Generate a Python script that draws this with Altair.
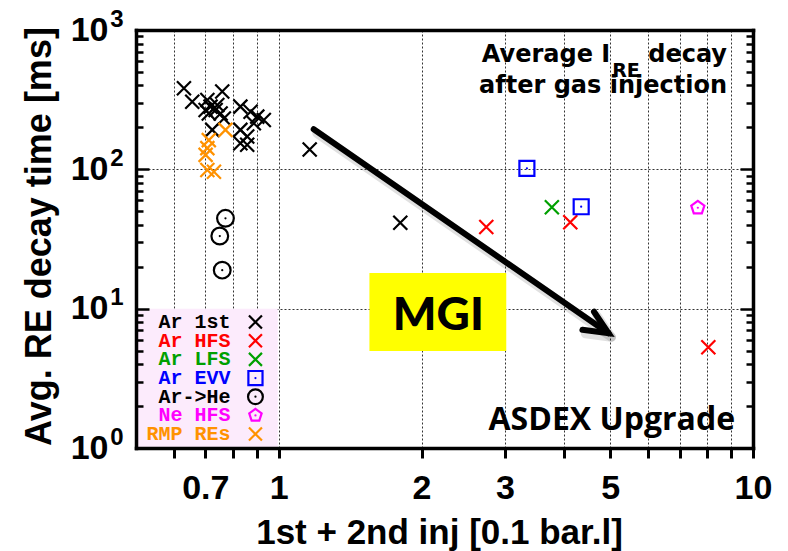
import altair as alt
import pandas as pd

# ---------------- data ----------------
ar1st_x = [0.631, 0.657, 0.707, 0.760, 0.718, 0.736, 0.712, 0.754, 0.766, 0.724, 0.830,
           0.872, 0.901, 0.930, 0.886, 0.830, 0.858, 0.830, 0.858, 0.701, 0.742, 1.162, 1.804]
ar1st_y = [382, 306, 314, 362, 282, 267, 252, 252, 232, 192, 282,
           259, 239, 226, 214, 192, 172, 154, 150, 267, 290, 139, 41.4]
arhfs_x = [2.739, 4.118, 8.05]
arhfs_y = [38.6, 41.7, 5.28]
arlfs_x = [3.766]
arlfs_y = [53.4]
arevv_x = [3.336, 4.342]
arevv_y = [101.7, 53.9]
arhe_x = [0.772, 0.751, 0.760]
arhe_y = [44.5, 33.2, 18.9]
nehfs_x = [7.65]
nehfs_y = [53.0]
rmp_x = [0.772, 0.712, 0.707, 0.701, 0.707, 0.730]
rmp_y = [192, 162, 142, 127, 99, 96]

legend_labels = ["Ar 1st", "Ar HFS", "Ar LFS", "Ar EVV", "Ar->He", "Ne HFS", "RMP REs"]
legend_colors = ["black", "#ff0000", "#00a000", "#0000ff", "black", "#ff00ff", "#ff9200"]
legend_shapes = ["x", "x", "x", "square", "circle", "pentagon", "x"]
series_x = [ar1st_x, arhfs_x, arlfs_x, arevv_x, arhe_x, nehfs_x, rmp_x]
series_y = [ar1st_y, arhfs_y, arlfs_y, arevv_y, arhe_y, nehfs_y, rmp_y]

x_tick_values = [0.6, 0.7, 0.8, 0.9, 1, 2, 3, 4, 5, 6, 7, 8, 9, 10]
x_tick_labels = [0.7, 1, 2, 3, 5, 10]
y_label_values = [1, 10, 100, 1000]
y_grid_values = [10, 100]
y_minor_values = [1, 2, 3, 4, 5, 6, 7, 8, 9, 10, 20, 30, 40, 50, 60, 70, 80, 90,
                  100, 200, 300, 400, 500, 600, 700, 800, 900, 1000]

arrow_x = [1.185, 4.958]
arrow_y = [194, 6.66]
head_x = [4.368, 4.958, 4.62]
head_y = [7.05, 6.66, 9.5]

# ---------------- styling ----------------
W, H = 617, 418
FONT = "Liberation Sans"
X_PATH = "M-1,-1L1,1M-1,1L1,-1"
PENT_PATH = "M0,-1L0.951,-0.309L0.588,0.809L-0.588,0.809L-0.951,-0.309Z"
SHAPE = {"x": X_PATH, "square": "square", "circle": "circle", "pentagon": PENT_PATH}
SIZE = {"x": 196, "square": 225, "circle": 280, "pentagon": 190}
LSIZE = {"x": 169, "square": 200, "circle": 220, "pentagon": 170}

xs = alt.Scale(type="log", domain=[0.5, 10], nice=False)
ys = alt.Scale(type="log", domain=[1, 1000], nice=False)


def XY(xaxis=None, yaxis=None):
    return dict(x=alt.X("x:Q", scale=xs, axis=xaxis), y=alt.Y("y:Q", scale=ys, axis=yaxis))


layers = []

# legend background box
box = pd.DataFrame({"x": [0.5], "x2": [0.995], "y": [1], "y2": [10]})
layers.append(alt.Chart(box).mark_rect(color="#fcebfc").encode(
    x=alt.X("x:Q", scale=xs, axis=None), x2="x2", y=alt.Y("y:Q", scale=ys, axis=None), y2="y2"))

# yellow MGI box
mgi = pd.DataFrame({"x": [1.553], "x2": [3.018], "y": [4.97], "y2": [18.0]})
layers.append(alt.Chart(mgi).mark_rect(color="#ffff00").encode(
    x=alt.X("x:Q", scale=xs, axis=None), x2="x2", y=alt.Y("y:Q", scale=ys, axis=None), y2="y2"))

# arrow with soft shadow
arr = pd.DataFrame({"x": arrow_x, "y": arrow_y, "i": [0, 1]})
hd = pd.DataFrame({"x": head_x, "y": head_y, "i": [0, 1, 2]})
for df in (arr, hd):
    layers.append(alt.Chart(df).mark_line(color="black", opacity=0.12, strokeWidth=9,
                                          xOffset=3, yOffset=4, strokeCap="round",
                                          strokeJoin="round").encode(
        order="i:Q", **XY()))
for df in (arr, hd):
    layers.append(alt.Chart(df).mark_line(color="black", strokeWidth=6, strokeCap="round",
                                          strokeJoin="miter").encode(order="i:Q", **XY()))

# data points
for lab, col, shp, sx, sy in zip(legend_labels, legend_colors, legend_shapes, series_x, series_y):
    df = pd.DataFrame({"x": sx, "y": sy})
    layers.append(alt.Chart(df).mark_point(shape=SHAPE[shp], filled=False, color=col,
                                           size=SIZE[shp], opacity=1,
                                           strokeWidth=2.2).encode(**XY()))
    if shp != "x":
        layers.append(alt.Chart(df).mark_point(shape="circle", filled=True, color=col,
                                               size=5, opacity=1).encode(**XY()))

# manual legend
leg_y = [10 ** (0.904 - 0.134 * i) for i in range(len(legend_labels))]
leg = pd.DataFrame({"label": legend_labels, "color": legend_colors,
                    "x": [0.791] * len(legend_labels), "y": leg_y})
layers.append(alt.Chart(leg).mark_text(font="Liberation Mono", fontSize=20, fontWeight="bold",
                                       align="right", baseline="middle").encode(
    text="label:N", color=alt.Color("color:N", scale=None), **XY()))
for lab, col, shp, yy in zip(legend_labels, legend_colors, legend_shapes, leg_y):
    df = pd.DataFrame({"x": [0.893], "y": [yy]})
    layers.append(alt.Chart(df).mark_point(shape=SHAPE[shp], filled=False, color=col,
                                           size=LSIZE[shp], opacity=1,
                                           strokeWidth=2.2).encode(**XY()))
    if shp != "x":
        layers.append(alt.Chart(df).mark_point(shape="circle", filled=True, color=col,
                                               size=5, opacity=1).encode(**XY()))

# text annotations
def txt(text, x, y, size, font, align, baseline="alphabetic", weight="bold"):
    df = pd.DataFrame({"x": [x], "y": [y], "t": [text]})
    return alt.Chart(df).mark_text(font=font, fontSize=size, fontWeight=weight, align=align,
                                   baseline=baseline, color="black").encode(text="t:N", **XY())

layers.append(txt("MGI", 2.17, 7.03, 46, "Lato", "center", weight=900))
layers.append(txt("Average I", 5.0, 589, 24, "DejaVu Sans", "right"))
layers.append(txt("RE", 5.047, 462, 19, "DejaVu Sans", "left"))
layers.append(txt("decay", 8.815, 589, 24, "DejaVu Sans", "right"))
layers.append(txt("after gas injection", 8.815, 353, 24, "DejaVu Sans", "right"))
layers.append(txt("ASDEX Upgrade", 9.165, 1.346, 32, "Open Sans", "right"))

# ---------------- axes ----------------
dom = pd.DataFrame({"x": [0.5, 10], "y": [1, 1000]})
xexpr = "".join(f"abs(datum.value - {v}) < 1e-9 ? '{v:g}' : " for v in x_tick_labels) + "''"
major_test = " || ".join(f"datum.value == {v}" for v in y_grid_values)
tick_cond = {"condition": {"test": major_test, "value": 13}, "value": 7}

ax_xgrid = alt.Axis(orient="bottom", values=x_tick_values, grid=True, gridDash=[2, 2],
                    gridColor="#333333", gridWidth=1, domain=False, ticks=False,
                    labels=False, title=None, zindex=0)
ax_ygrid = alt.Axis(orient="left", values=y_grid_values, grid=True, gridDash=[2, 2],
                    gridColor="#333333", gridWidth=1, domain=False, ticks=False,
                    labels=False, title=None, zindex=0)
ax_xmain = alt.Axis(orient="bottom", values=x_tick_values, labelExpr=xexpr, grid=False,
                    domain=True, domainColor="black", domainWidth=3.5, domainCap="square",
                    ticks=True, tickColor="black", tickWidth=3, tickSize=10,
                    labelFont=FONT, labelFontWeight="bold", labelFontSize=34,
                    labelColor="black", labelPadding=13, labelOverlap=False, labelFlush=False,
                    title="1st + 2nd inj [0.1 bar.l]", titleFont=FONT, titleFontWeight="bold",
                    titleFontSize=35, titleColor="black", titleX=303, titleY=95,
                    titleBaseline="alphabetic", titleAlign="center", zindex=1)
ax_ymain = alt.Axis(orient="left", values=y_label_values, labelExpr="'10'", grid=False,
                    domain=True, domainColor="black", domainWidth=3.5, domainCap="square",
                    ticks=False, labelFont=FONT, labelFontWeight="bold", labelFontSize=34,
                    labelColor="black", labelPadding=28, labelAlign="right",
                    labelBaseline="middle", labelOverlap=False, labelFlush=False,
                    title="Avg. RE decay time [ms]", titleFont=FONT, titleFontWeight="bold",
                    titleFontSize=36, titleColor="black", titleAngle=270, titleX=-86,
                    titleY=206, titleBaseline="alphabetic", titleAlign="center", zindex=1)
ax_yexp = alt.Axis(orient="left", values=y_label_values,
                   labelExpr="'' + round(log(datum.value) / LN10)", grid=False, domain=False,
                   ticks=False, labelFont=FONT, labelFontWeight="bold", labelFontSize=24,
                   labelColor="black", labelPadding=13, labelAlign="right",
                   labelBaseline="middle", labelOffset=-11, labelOverlap=False,
                   labelFlush=False, title=None, zindex=1)
ax_xtop = alt.Axis(orient="top", domain=True, domainColor="black", domainWidth=3.5,
                   domainCap="square", ticks=False, labels=False, grid=False, title=None,
                   zindex=1)
ax_yin_left = alt.Axis(orient="right", offset=-W, values=y_minor_values, domain=False,
                       labels=False, ticks=True, tickSize=tick_cond, tickWidth=2.5,
                       tickColor="black", grid=False, title=None, zindex=1)
ax_yin_right = alt.Axis(orient="left", offset=-W, values=y_minor_values, domain=True,
                        domainColor="black", domainWidth=3.5, domainCap="square",
                        labels=False, ticks=True, tickSize=tick_cond, tickWidth=2.5,
                        tickColor="black", grid=False, title=None, zindex=1)

for xa, ya in [(ax_xgrid, ax_ygrid), (ax_xmain, ax_ymain), (ax_xtop, ax_yexp),
               (None, ax_yin_left), (None, ax_yin_right)]:
    layers.append(alt.Chart(dom).mark_point(opacity=0).encode(**XY(xa, ya)))

chart = alt.layer(*layers).resolve_axis(x="independent", y="independent").properties(
    width=W, height=H,
    autosize=alt.AutoSizeParams(type="none"),
    padding={"left": 136, "top": 30, "right": 35, "bottom": 103},
    background="white",
).configure_view(stroke=None)

chart.save("out.html", embed_options={"renderer": "svg", "actions": False})
